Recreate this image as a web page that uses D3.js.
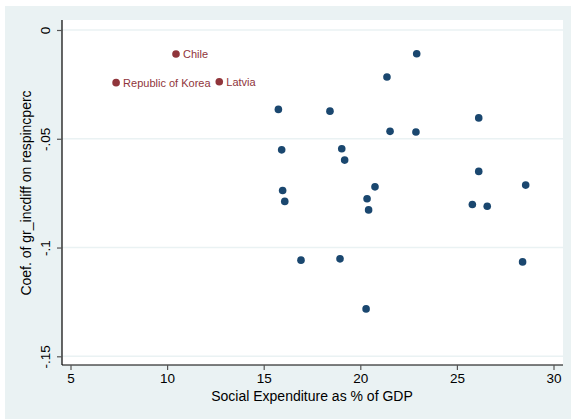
<!DOCTYPE html>
<html>
<head>
<meta charset="utf-8">
<script src="https://cdn.jsdelivr.net/npm/d3@7"></script>
<style>
  html, body { margin: 0; padding: 0; background: #ffffff; }
  svg { display: block; }
  text { font-family: "Liberation Sans", Arial, Helvetica, sans-serif; }
</style>
</head>
<body>
<script>
// Social expenditure (% of GDP) vs. country-level coefficient
const spendOther = [22.92, 21.38, 26.13, 15.76, 18.43, 21.54, 22.88, 15.93, 19.04, 19.19,
                    15.98, 16.09, 20.76, 20.35, 20.43, 26.13, 28.56, 25.80, 26.57, 16.93,
                    18.95, 28.40, 20.30];
const coefOther  = [-0.0109, -0.0216, -0.0404, -0.0365, -0.0373, -0.0466, -0.0469, -0.0551, -0.0546, -0.0598,
                    -0.0738, -0.0788, -0.0721, -0.0776, -0.0827, -0.0650, -0.0713, -0.0802, -0.0810, -0.1058,
                    -0.1052, -0.1066, -0.1282];

const labelled   = ["Chile", "Republic of Korea", "Latvia"];
const spendLab   = [10.46, 7.36, 12.70];
const coefLab    = [-0.0110, -0.0242, -0.0238];

const xTicks = [5, 10, 15, 20, 25, 30];
const yTicks = [0, -0.05, -0.1, -0.15];
const yTickLabels = ["0", "-.05", "-.1", "-.15"];

const W = 571, H = 419;
const plot = { left: 62, top: 20, right: 563, bottom: 365 };

const svg = d3.select("body").append("svg").attr("width", W).attr("height", H);

// outer graph region
svg.append("rect").attr("x", 5).attr("y", 6).attr("width", W - 5).attr("height", H - 6)
  .attr("fill", "#eaf2f3");
// plot region
svg.append("rect").attr("x", plot.left).attr("y", plot.top)
  .attr("width", plot.right - plot.left).attr("height", plot.bottom - plot.top)
  .attr("fill", "#ffffff");

const x = d3.scaleLinear().domain([5, 30]).range([70.5, 553.5]);
const y = d3.scaleLinear().domain([0, -0.15]).range([30, 356.3]);

// horizontal grid lines
svg.append("g").selectAll("line").data(yTicks).join("line")
  .attr("x1", plot.left).attr("x2", plot.right)
  .attr("y1", d => y(d)).attr("y2", d => y(d))
  .attr("stroke", "#eaf2f3").attr("stroke-width", 1.5);

// y axis
const yAxis = svg.append("g").attr("transform", `translate(${plot.left},0)`)
  .call(d3.axisLeft(y).tickValues(yTicks).tickSize(5).tickPadding(0)
        .tickFormat((d, i) => yTickLabels[i]));
yAxis.select(".domain").attr("d", `M0,${plot.top}V${plot.bottom}`).attr("stroke", "#000").attr("stroke-width", 1.2);
yAxis.selectAll(".tick line").attr("stroke", "#555").attr("stroke-width", 1.2);
yAxis.selectAll(".tick text")
  .attr("font-size", 13.5).attr("fill", "#000")
  .attr("text-anchor", "middle")
  .attr("transform", "rotate(-90)")
  .attr("x", 0).attr("y", -12).attr("dy", 0)
  .attr("transform", d => `translate(0,0) rotate(-90)`);
// place rotated tick labels: baseline sits left of the tick
yAxis.selectAll(".tick text").each(function () {
  d3.select(this).attr("x", 0).attr("y", -12);
});

// x axis
const xAxis = svg.append("g").attr("transform", `translate(0,${plot.bottom})`)
  .call(d3.axisBottom(x).tickValues(xTicks).tickSize(5).tickPadding(3).tickFormat(d3.format("d")));
xAxis.select(".domain").attr("d", `M${plot.left},0H${plot.right}`).attr("stroke", "#000").attr("stroke-width", 1.2);
xAxis.selectAll(".tick line").attr("stroke", "#555").attr("stroke-width", 1.2);
xAxis.selectAll(".tick text").attr("font-size", 13.5).attr("fill", "#000");

// axis titles
svg.append("text").attr("x", 312).attr("y", 401)
  .attr("text-anchor", "middle").attr("font-size", 14).attr("fill", "#000")
  .text("Social Expenditure as % of GDP");
svg.append("text").attr("transform", `translate(31,193) rotate(-90)`)
  .attr("text-anchor", "middle").attr("font-size", 14).attr("fill", "#000")
  .text("Coef. of gr_incdiff on respincperc");

// unlabelled countries
svg.append("g").selectAll("circle").data(d3.range(spendOther.length)).join("circle")
  .attr("cx", i => x(spendOther[i])).attr("cy", i => y(coefOther[i]))
  .attr("r", 3.8).attr("fill", "#1a476f");

// labelled countries
const lab = svg.append("g").selectAll("g").data(d3.range(labelled.length)).join("g")
  .attr("transform", i => `translate(${x(spendLab[i])},${y(coefLab[i])})`);
lab.append("circle").attr("r", 3.8).attr("fill", "#90353b");
lab.append("text").attr("x", 7).attr("dy", "0.36em")
  .attr("font-size", 11).attr("fill", "#90353b")
  .text(i => labelled[i]);
</script>
</body>
</html>
